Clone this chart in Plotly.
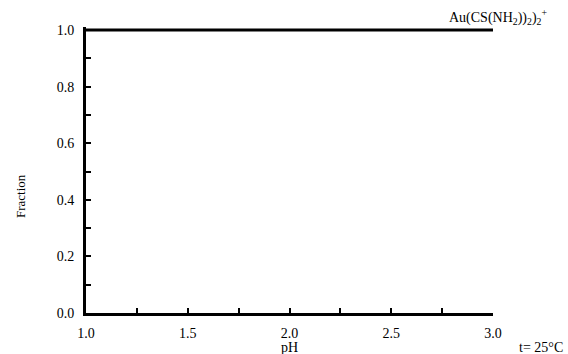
import plotly.graph_objects as go

ph = [1.0, 1.5, 2.0, 2.5, 3.0]
fraction_au = [1.0, 1.0, 1.0, 1.0, 1.0]
species_label = "Au(CS(NH<sub>2</sub>))<sub>2</sub>)<sub>2</sub><sup>+</sup>"
x_ticks = [1.0, 1.5, 2.0, 2.5, 3.0]
y_ticks = [0.0, 0.2, 0.4, 0.6, 0.8, 1.0]

FONT = "Liberation Serif"

fig = go.Figure()
fig.add_trace(go.Scatter(x=ph, y=fraction_au, mode="lines",
                         line=dict(color="black", width=3), cliponaxis=False,
                         showlegend=False, hoverinfo="skip"))

fig.update_layout(
    width=568, height=354,
    margin=dict(l=86, r=75, t=27, b=41),
    paper_bgcolor="white", plot_bgcolor="white",
    font=dict(family=FONT, size=14, color="black"),
    xaxis=dict(range=[1, 3], tickvals=x_ticks, ticktext=[f"{v:.1f}" for v in x_ticks],
               ticks="inside", ticklen=5, tickwidth=2, tickcolor="black",
               minor=dict(dtick=0.25, tick0=1, ticks="inside", ticklen=5, tickwidth=2, tickcolor="black"),
               showline=True, linewidth=3, linecolor="black", showgrid=False, zeroline=False,
               ticklabelstandoff=5,
               tickfont=dict(family=FONT, size=14)),
    yaxis=dict(range=[0, 1.0106], tickvals=y_ticks, ticktext=[f"{v:.1f}" for v in y_ticks],
               ticks="inside", ticklen=5, tickwidth=2, tickcolor="black",
               minor=dict(dtick=0.1, tick0=0, ticks="inside", ticklen=5, tickwidth=2, tickcolor="black"),
               showline=True, linewidth=3, linecolor="black", showgrid=False, zeroline=False,
               ticklabelstandoff=6,
               tickfont=dict(family=FONT, size=14)),
    annotations=[
        dict(text="pH", xref="paper", yref="paper", x=0.5, y=-0.0, yshift=-34,
             showarrow=False, xanchor="center", yanchor="middle", font=dict(family=FONT, size=14)),
        dict(text="t= 25°C", xref="paper", yref="paper", x=1.0, xshift=24, y=0, yshift=-34,
             showarrow=False, xanchor="left", yanchor="middle", font=dict(family=FONT, size=14)),
        dict(text="Fraction", xref="paper", yref="paper", x=0, xshift=-66, y=0.5, yshift=-26,
             showarrow=False, textangle=-90, xanchor="center", yanchor="middle", font=dict(family=FONT, size=13)),
        dict(text=species_label, x=3.0, y=1.0, xref="x", yref="y", xanchor="right", yanchor="bottom",
             xshift=57, yshift=1, showarrow=False, font=dict(family=FONT, size=14)),
    ],
)

fig.write_html("out.html")
